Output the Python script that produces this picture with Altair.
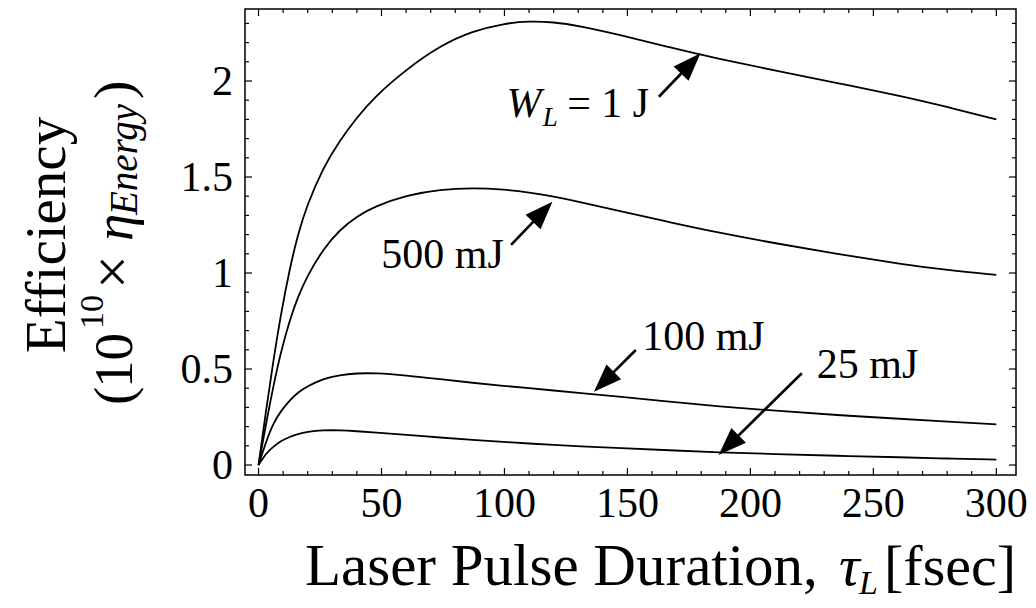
import math
import altair as alt
import pandas as pd

# ---------------- data ----------------
TAU = [0, 3, 6, 9, 12.8, 16, 19.6, 26.3, 33, 40, 47, 60, 74, 87, 100, 110, 120,
       130, 147, 167, 187, 210, 235, 262, 280, 300]
EFF_1J = [0, 0.28, 0.54, 0.78, 1.03, 1.20, 1.35, 1.55, 1.69, 1.81, 1.915, 2.06, 2.185,
          2.26, 2.30, 2.312, 2.307, 2.288, 2.24, 2.175, 2.115, 2.055, 1.99, 1.92, 1.865, 1.80]
EFF_500 = [0, 0.21, 0.41, 0.585, 0.76, 0.875, 0.98, 1.125, 1.225, 1.295, 1.345, 1.405,
           1.435, 1.443, 1.435, 1.42, 1.398, 1.372, 1.322, 1.265, 1.21, 1.155, 1.10,
           1.045, 1.015, 0.99]
EFF_100 = [0, 0.12, 0.217, 0.28, 0.339, 0.378, 0.408, 0.45, 0.469, 0.478, 0.479, 0.467,
           0.447, 0.428, 0.412, 0.40, 0.388, 0.376, 0.356, 0.33, 0.305, 0.283, 0.26,
           0.24, 0.226, 0.212]
EFF_25 = [0, 0.06, 0.095, 0.125, 0.147, 0.162, 0.173, 0.182, 0.181, 0.176, 0.170, 0.157,
          0.143, 0.131, 0.12, 0.112, 0.105, 0.098, 0.088, 0.077, 0.066, 0.057, 0.048,
          0.04, 0.034, 0.028]
SERIES = ["1 J", "500 mJ", "100 mJ", "25 mJ"]

X_TICKS = [0, 50, 100, 150, 200, 250, 300]
X_LABELS = ["0", "50", "100", "150", "200", "250", "300"]
X_MINOR = [10, 20, 30, 40, 60, 70, 80, 90, 110, 120, 130, 140, 160, 170, 180, 190,
           210, 220, 230, 240, 260, 270, 280, 290]
Y_TICKS = [0, 0.5, 1, 1.5, 2]
Y_LABELS = ["0", "0.5", "1", "1.5", "2"]
Y_MINOR = [0.1, 0.2, 0.3, 0.4, 0.6, 0.7, 0.8, 0.9, 1.1, 1.2, 1.3, 1.4, 1.6, 1.7, 1.8,
           1.9, 2.1, 2.2, 2.3]

# annotation labels (data coordinates of text start / baseline)
ANN_TEXT = ["500 mJ", "100 mJ", "25 mJ", "= 1 J"]
ANN_X = [49.9, 156.0, 227.0, 125.5]
ANN_Y = [1.026, 0.599, 0.452, 1.8125]
W_TEXT, W_X, W_Y = ["W"], [100.8], [1.8125]
WSUB_TEXT, WSUB_X, WSUB_Y = ["L"], [115.6], [1.768]

# arrows: tail -> tip (data coordinates)
ARR_X0 = [162.8, 102.7, 153.4, 220.9]
ARR_Y0 = [1.918, 1.146, 0.599, 0.478]
ARR_X1 = [179.7, 119.5, 136.4, 187.1]
ARR_Y1 = [2.144, 1.371, 0.382, 0.052]

Y_TITLE_1 = "Efficiency"
Y_TITLE_2 = ["(", "10", "10", "×", "η", "Energy", ")"]
X_TITLE = ["Laser Pulse Duration,", "τ", "L", "[fsec]"]

# ---------------- layout ----------------
W, H = 771, 466
XDOM = [-5.5, 308]
YDOM = [-0.052, 2.375]
FONT = "Liberation Serif"
xs = alt.Scale(domain=XDOM, nice=False, zero=False)
ys = alt.Scale(domain=YDOM, nice=False, zero=False)
PX_X = W / (XDOM[1] - XDOM[0])
PX_Y = H / (YDOM[1] - YDOM[0])

curve_df = pd.DataFrame({
    "tau": TAU * 4,
    "eff": EFF_1J + EFF_500 + EFF_100 + EFF_25,
    "series": sum([[s] * len(TAU) for s in SERIES], []),
})

curves = alt.Chart(curve_df).mark_line(
    color="black", strokeWidth=1.8, interpolate="basis"
).encode(
    x=alt.X("tau:Q", scale=xs, axis=None),
    y=alt.Y("eff:Q", scale=ys, axis=None),
    detail="series:N",
)


def ticks(vals, side, length):
    d = pd.DataFrame({"v": vals})
    base = alt.Chart(d).mark_rule(color="black", strokeWidth=1.2)
    if side == "bottom":
        return base.encode(x=alt.X("v:Q", scale=xs, axis=None), y=alt.value(H), y2=alt.value(H - length))
    if side == "top":
        return base.encode(x=alt.X("v:Q", scale=xs, axis=None), y=alt.value(0), y2=alt.value(length))
    if side == "left":
        return base.encode(y=alt.Y("v:Q", scale=ys, axis=None), x=alt.value(0), x2=alt.value(length))
    return base.encode(y=alt.Y("v:Q", scale=ys, axis=None), x=alt.value(W), x2=alt.value(W - length))


tick_layers = []
for side in ["bottom", "top"]:
    tick_layers.append(ticks(X_TICKS, side, 7))
    tick_layers.append(ticks(X_MINOR, side, 4))
for side in ["left", "right"]:
    tick_layers.append(ticks(Y_TICKS, side, 7))
    tick_layers.append(ticks(Y_MINOR, side, 4))

xlab = alt.Chart(pd.DataFrame({"v": X_TICKS, "t": X_LABELS})).mark_text(
    font=FONT, fontSize=42, align="center", baseline="alphabetic", color="black"
).encode(x=alt.X("v:Q", scale=xs, axis=None), y=alt.value(507.7), text="t:N")

ylab = alt.Chart(pd.DataFrame({"v": Y_TICKS, "t": Y_LABELS})).mark_text(
    font=FONT, fontSize=42, align="right", baseline="alphabetic", dy=14, color="black"
).encode(y=alt.Y("v:Q", scale=ys, axis=None), x=alt.value(-12), text="t:N")


def ann(texts, xv, yv, size, style="normal"):
    d = pd.DataFrame({"x": xv, "y": yv, "t": texts})
    return alt.Chart(d).mark_text(
        font=FONT, fontSize=size, fontStyle=style, align="left",
        baseline="alphabetic", color="black"
    ).encode(x=alt.X("x:Q", scale=xs, axis=None), y=alt.Y("y:Q", scale=ys, axis=None), text="t:N")


ann_layers = [
    ann(ANN_TEXT, ANN_X, ANN_Y, 42),
    ann(W_TEXT, W_X, W_Y, 42, "italic"),
    ann(WSUB_TEXT, WSUB_X, WSUB_Y, 27, "italic"),
]

# arrows
HEAD_LEN = 28.0
angles, sx1, sy1 = [], [], []
for x0, y0, x1, y1 in zip(ARR_X0, ARR_Y0, ARR_X1, ARR_Y1):
    dx = (x1 - x0) * PX_X
    dy = -(y1 - y0) * PX_Y  # screen y (down positive)
    angles.append(math.degrees(math.atan2(dx, -dy)) % 360)
    L = math.hypot(dx, dy)
    f = 1 - (HEAD_LEN * 0.6) / L
    sx1.append(x0 + (x1 - x0) * f)
    sy1.append(y0 + (y1 - y0) * f)

arr_df = pd.DataFrame({"x0": ARR_X0, "y0": ARR_Y0, "x1": ARR_X1, "y1": ARR_Y1,
                       "sx1": sx1, "sy1": sy1, "ang": angles})
shafts = alt.Chart(arr_df).mark_rule(color="black", strokeWidth=2.6).encode(
    x=alt.X("x0:Q", scale=xs, axis=None), y=alt.Y("y0:Q", scale=ys, axis=None),
    x2="sx1:Q", y2="sy1:Q",
)
HEAD_PATH = "M0,0 L0.37,1 L-0.37,1 Z"
heads = alt.Chart(arr_df).mark_point(
    shape=HEAD_PATH, filled=True, color="black", opacity=1, size=(2 * HEAD_LEN) ** 2, strokeWidth=0
).encode(
    x=alt.X("x1:Q", scale=xs, axis=None), y=alt.Y("y1:Q", scale=ys, axis=None),
    angle=alt.Angle("ang:Q", scale=None),
)


def ptext(txt, x, y, size, style="normal", angle=0, align="left"):
    return alt.Chart(pd.DataFrame({"t": [txt]})).mark_text(
        font=FONT, fontSize=size, fontStyle=style, angle=angle, align=align,
        baseline="alphabetic", color="black"
    ).encode(x=alt.value(x), y=alt.value(y), text="t:N")


title_layers = [
    ptext(Y_TITLE_1, -180, 226, 57, angle=270, align="center"),
    ptext(Y_TITLE_2[0], -113, 396, 55, angle=270),
    ptext(Y_TITLE_2[1], -113, 379, 55, angle=270),
    ptext(Y_TITLE_2[2], -142, 320, 34, angle=270),
    ptext(Y_TITLE_2[3], -113, 280, 60, angle=270),
    ptext(Y_TITLE_2[4], -113, 232, 55, "italic", angle=270),
    ptext(Y_TITLE_2[5], -108, 206, 39, "italic", angle=270),
    ptext(Y_TITLE_2[6], -113, 90, 55, angle=270),
    ptext(X_TITLE[0], 60, 576, 59),
    ptext(X_TITLE[1], 594, 576, 58, "italic"),
    ptext(X_TITLE[2], 614, 585, 34, "italic"),
    ptext(X_TITLE[3], 639, 576, 58),
]

chart = alt.layer(
    curves, *tick_layers, xlab, ylab, *ann_layers, shafts, heads, *title_layers
).properties(
    width=W, height=H,
    padding={"left": 237, "top": 1, "right": 12, "bottom": 125},
    autosize=alt.AutoSizeParams(type="none"),
    background="white",
).configure_view(stroke="black", strokeWidth=1.5)

chart.save("out.html", embed_options={"renderer": "svg", "actions": False})
